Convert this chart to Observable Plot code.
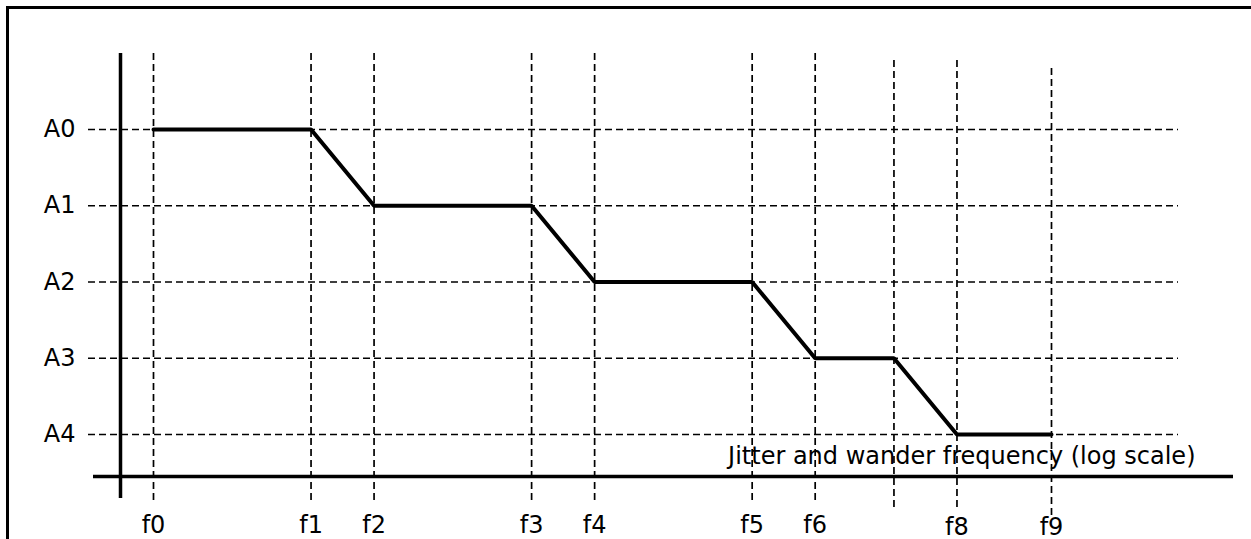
<!DOCTYPE html>
<html>
<head>
<meta charset="utf-8">
<script src="https://cdn.jsdelivr.net/npm/d3@7"></script>
<script src="https://cdn.jsdelivr.net/npm/@observablehq/plot@0.6"></script>
<style>
  html, body { margin: 0; padding: 0; background: #fff; }
  #chart svg { display: block; }
</style>
</head>
<body>
<div id="chart"></div>
<script>
// Frequency break points (log-frequency position, arbitrary units)
const freqs = [0, 10, 14, 24, 28, 38, 42, 47, 51, 57];
// Tick labels under the frequency break points (f7 is unlabeled)
const freqLabels = ["f0", "f1", "f2", "f3", "f4", "f5", "f6", "", "f8", "f9"];
// Amplitude levels (index 0 = A0 at top)
const levelLabels = ["A0", "A1", "A2", "A3", "A4"];
// Mask: amplitude level index at each frequency break point
const maskLevels = [0, 0, 1, 1, 2, 2, 3, 3, 4, 4];
const xAxisTitle = "Jitter and wander frequency (log scale)";

const mask = freqs.map((f, i) => ({f, level: maskLevels[i]}));
const ticks = freqs.map((f, i) => ({f, label: freqLabels[i], i}));
const levels = levelLabels.map((label, i) => ({label, i}));

const font = "DejaVu Sans, sans-serif";
const dash = "7,4";
const gridW = 1.7;

const chart = Plot.plot({
  width: 1251,
  height: 539,
  marginLeft: 93,
  marginRight: 18,
  marginTop: 53,
  marginBottom: 41,
  style: {fontFamily: font, background: "#fff", overflow: "visible"},
  x: {type: "linear", domain: [freqs[0], freqs[freqs.length - 1]], range: [153, 1051], axis: null},
  y: {type: "linear", domain: [0, levelLabels.length - 1], range: [129, 434], axis: null},
  marks: [
    // outer border (extends beyond the picture on the right and bottom)
    Plot.frame({stroke: "#000", strokeWidth: 3, insetLeft: -86, insetTop: -46, insetRight: -40, insetBottom: -50}),
    // horizontal dashed grid at each level
    Plot.ruleY(levels, {y: "i", stroke: "#000", strokeWidth: gridW, strokeDasharray: dash, insetLeft: -5, insetRight: 55}),
    // vertical dashed grid at each break frequency
    Plot.ruleX(ticks.filter(d => d.i <= 6), {x: "f", stroke: "#000", strokeWidth: gridW, strokeDasharray: dash, insetBottom: -4}),
    Plot.ruleX(ticks.filter(d => d.i === 7 || d.i === 8), {x: "f", stroke: "#000", strokeWidth: gridW, strokeDasharray: dash, insetTop: 7, insetBottom: -10}),
    Plot.ruleX(ticks.filter(d => d.i === 9), {x: "f", stroke: "#000", strokeWidth: gridW, strokeDasharray: dash, insetTop: 15, insetBottom: -19}),
    // vertical axis line
    Plot.ruleX([freqs[0]], {stroke: "#000", strokeWidth: 3.5, dx: -33}),
    // horizontal axis line
    Plot.ruleY([levelLabels.length - 1], {stroke: "#000", strokeWidth: 3.5, dy: 42}),
    // mask line
    Plot.line(mask, {x: "f", y: "level", stroke: "#000", strokeWidth: 4, strokeLinejoin: "miter"}),
    // level labels
    Plot.text(levels, {y: "i", text: "label", frameAnchor: "left", dx: -18, textAnchor: "end", fontSize: 24, fill: "#000"}),
    // frequency labels
    Plot.text(ticks.filter(d => d.i <= 6), {x: "f", text: "label", frameAnchor: "bottom", lineAnchor: "bottom", dy: 34, fontSize: 24, fill: "#000"}),
    Plot.text(ticks.filter(d => d.i >= 8), {x: "f", text: "label", frameAnchor: "bottom", lineAnchor: "bottom", dy: 36, fontSize: 24, fill: "#000"}),
    // axis title
    Plot.text([xAxisTitle], {frameAnchor: "bottom-right", dx: -38, dy: -35, textAnchor: "end", lineAnchor: "bottom", fontSize: 24, fill: "#000"})
  ]
});
document.getElementById("chart").appendChild(chart);
</script>
</body>
</html>
